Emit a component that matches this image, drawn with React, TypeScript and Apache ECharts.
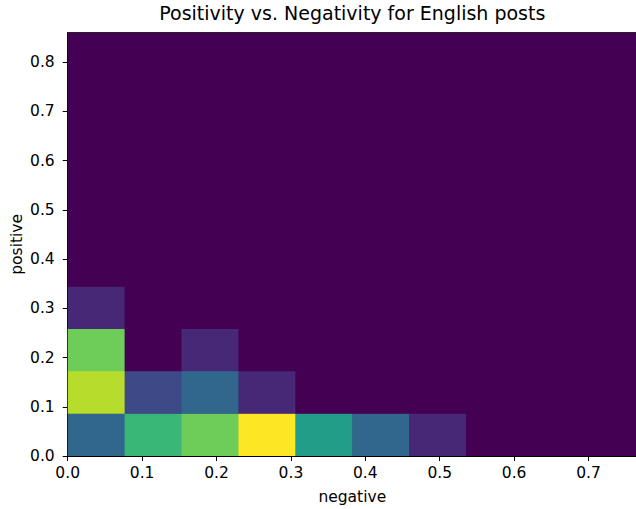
import React, { useEffect, useRef } from "react";
import * as echarts from "echarts";

// 2D histogram of sentiment scores: rows are "positive" bins (bottom to top),
// columns are "negative" bins (left to right), values are post counts.
const negativeRange = [0, 0.765];
const positiveRange = [0, 0.86];
const binCount = 10;

const countsRow0 = [3, 6, 7, 9, 5, 3, 1, 0, 0, 0];
const countsRow1 = [8, 2, 3, 1, 0, 0, 0, 0, 0, 0];
const countsRow2 = [7, 0, 1, 0, 0, 0, 0, 0, 0, 0];
const countsRow3 = [1, 0, 0, 0, 0, 0, 0, 0, 0, 0];
const countsRow4 = [0, 0, 0, 0, 0, 0, 0, 0, 0, 0];
const countsRow5 = [0, 0, 0, 0, 0, 0, 0, 0, 0, 0];
const countsRow6 = [0, 0, 0, 0, 0, 0, 0, 0, 0, 0];
const countsRow7 = [0, 0, 0, 0, 0, 0, 0, 0, 0, 0];
const countsRow8 = [0, 0, 0, 0, 0, 0, 0, 0, 0, 0];
const countsRow9 = [0, 0, 0, 0, 0, 0, 0, 0, 0, 0];
const countRows = [
  countsRow0, countsRow1, countsRow2, countsRow3, countsRow4,
  countsRow5, countsRow6, countsRow7, countsRow8, countsRow9,
];

const xTickValues = [0, 0.1, 0.2, 0.3, 0.4, 0.5, 0.6, 0.7];
const yTickValues = [0, 0.1, 0.2, 0.3, 0.4, 0.5, 0.6, 0.7, 0.8];

const viridis = [
  "#440154", "#482475", "#414487", "#355f8d", "#2a788e", "#21918c",
  "#22a884", "#44bf70", "#7ad151", "#bddf26", "#fde725",
];

const FONT = "DejaVu Sans";
const LABEL_SIZE = 15.5;
const TITLE_SIZE = 19;

const GRID_LEFT = 67.7;
const GRID_TOP = 32.7;
const GRID_WIDTH = 569.2;
const GRID_HEIGHT = 423.3;

function buildCells() {
  const bw = (negativeRange[1] - negativeRange[0]) / binCount;
  const bh = (positiveRange[1] - positiveRange[0]) / binCount;
  const cells: number[][] = [];
  countRows.forEach((row, j) => {
    row.forEach((c, i) => {
      cells.push([
        negativeRange[0] + i * bw,
        negativeRange[0] + (i + 1) * bw,
        positiveRange[0] + j * bh,
        positiveRange[0] + (j + 1) * bh,
        c,
      ]);
    });
  });
  return cells;
}

export default function App() {
  const ref = useRef<HTMLDivElement>(null);

  useEffect(() => {
    if (!ref.current) return;
    const chart = echarts.init(ref.current, null, { renderer: "svg" });
    const cells = buildCells();
    const maxCount = Math.max(...cells.map((c) => c[4]));

    const axisCommon = {
      type: "value" as const,
      axisLine: { show: true, onZero: false, lineStyle: { color: "#000", width: 1 } },
      axisTick: { show: true, length: 5, lineStyle: { color: "#000", width: 1 } },
      splitLine: { show: false },
      nameMoveOverlap: false,
      nameTextStyle: { fontFamily: FONT, fontSize: LABEL_SIZE, color: "#000" },
    };

    chart.setOption({
      animation: false,
      backgroundColor: "#fff",
      graphic: [
        {
          type: "text",
          x: GRID_LEFT + GRID_WIDTH / 2,
          y: 3,
          style: {
            text: "Positivity vs. Negativity for English posts",
            font: `${TITLE_SIZE}px "${FONT}"`,
            fill: "#000",
            textAlign: "center",
            textVerticalAlign: "top",
          },
        },
      ],
      grid: {
        left: GRID_LEFT,
        top: GRID_TOP,
        width: GRID_WIDTH,
        height: GRID_HEIGHT,
        show: true,
        borderColor: "#000",
        borderWidth: 1,
        backgroundColor: viridis[0],
        containLabel: false,
        outerBoundsMode: "none",
      },
      visualMap: {
        show: false,
        type: "continuous",
        min: 0,
        max: maxCount,
        dimension: 4,
        inRange: { color: viridis },
      },
      xAxis: {
        ...axisCommon,
        min: negativeRange[0],
        max: negativeRange[1],
        name: "negative",
        nameLocation: "middle",
        nameGap: 33,
        axisTick: { ...axisCommon.axisTick, customValues: xTickValues },
        axisLabel: {
          customValues: xTickValues,
          formatter: (v: number) => v.toFixed(1),
          fontFamily: FONT,
          fontSize: LABEL_SIZE,
          color: "#000",
          margin: 9,
        },
      },
      yAxis: {
        ...axisCommon,
        min: positiveRange[0],
        max: positiveRange[1],
        name: "positive",
        nameLocation: "middle",
        nameGap: 42.5,
        axisTick: { ...axisCommon.axisTick, customValues: yTickValues },
        axisLabel: {
          customValues: yTickValues,
          formatter: (v: number) => v.toFixed(1),
          fontFamily: FONT,
          fontSize: LABEL_SIZE,
          color: "#000",
          margin: 13,
        },
      },
      series: [
        {
          type: "custom",
          clip: true,
          encode: { x: [0, 1], y: [2, 3] },
          data: cells,
          renderItem: (params: any, api: any) => {
            const p0 = api.coord([api.value(0), api.value(3)]);
            const p1 = api.coord([api.value(1), api.value(2)]);
            const color = api.visual("color");
            // slight overlap so neighbouring cells meet without hairline seams
            return {
              type: "rect",
              shape: {
                x: p0[0],
                y: p0[1] - 0.5,
                width: p1[0] - p0[0] + 0.5,
                height: p1[1] - p0[1] + 0.5,
              },
              style: { fill: color },
            };
          },
          z: 1,
        },
      ],
    });

    return () => chart.dispose();
  }, []);

  return (
    <div
      ref={ref}
      style={{ position: "fixed", left: 0, top: 0, width: 636, height: 509 }}
    />
  );
}
